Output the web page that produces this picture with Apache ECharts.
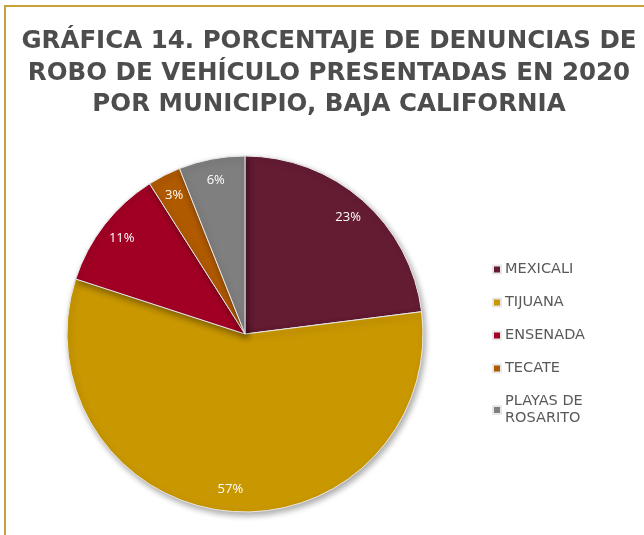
<!DOCTYPE html>
<html>
<head>
<meta charset="utf-8">
<script src="https://cdn.jsdelivr.net/npm/echarts@6/dist/echarts.min.js"></script>
<style>
  html, body { margin: 0; padding: 0; background: #fff; }
  #main { width: 644px; height: 535px; }
</style>
</head>
<body>
<div id="main"></div>
<script>
    // datos de la gráfica
    var municipios = ['MEXICALI', 'TIJUANA', 'ENSENADA', 'TECATE', 'PLAYAS DE ROSARITO'];
    var porcentajes = [23, 57, 11, 3, 6];
    var colores = ['#641C33', '#C99700', '#A10024', '#B05A00', '#7F7F7F'];

    var myChart = echarts.init(document.getElementById('main'));

    var datos = municipios.map(function (m, i) {
        return { name: m, value: porcentajes[i], itemStyle: { color: colores[i] } };
    });

    var option = {
        animation: false,
        title: {
            text: 'GRÁFICA 14. PORCENTAJE DE DENUNCIAS DE\nROBO DE VEHÍCULO PRESENTADAS EN 2020\nPOR MUNICIPIO, BAJA CALIFORNIA',
            left: 324,
            top: 21,
            textAlign: 'center',
            textStyle: {
                fontFamily: 'DejaVu Sans',
                fontWeight: 'bold',
                fontSize: 24.5,
                lineHeight: 31.5,
                color: '#4D4D4D'
            }
        },
        graphic: [{
            type: 'rect',
            shape: { x: 5, y: 6, width: 700, height: 600 },
            style: { fill: 'none', stroke: '#C9A13A', lineWidth: 2 },
            silent: true
        }],
        legend: {
            orient: 'vertical',
            left: 487,
            top: 256,
            itemWidth: 8,
            itemHeight: 8,
            itemGap: 16,
            icon: 'rect',
            data: municipios,
            formatter: function (name) {
                return name === 'PLAYAS DE ROSARITO' ? 'PLAYAS DE\nROSARITO' : name;
            },
            textStyle: {
                fontFamily: 'DejaVu Sans',
                fontSize: 14.5,
                lineHeight: 17,
                color: '#595959',
                padding: [0, 0, 0, -1]
            }
        },
        series: [{
            type: 'pie',
            center: [245, 334],
            radius: [0, 178],
            startAngle: 90,
            clockwise: true,
            data: datos,
            label: { show: false },
            labelLine: { show: false },
            itemStyle: {
                borderColor: '#E8E8E8',
                borderWidth: 1,
                shadowBlur: 6,
                shadowOffsetX: 2,
                shadowOffsetY: 3,
                shadowColor: 'rgba(0,0,0,0.35)'
            }
        }, {
            // anillo transparente sólo para colocar las etiquetas
            type: 'pie',
            center: [245, 334],
            radius: [128, 178],
            startAngle: 90,
            clockwise: true,
            silent: true,
            legendHoverLink: false,
            data: municipios.map(function (m, i) {
                return { name: m + ' ', value: porcentajes[i] };
            }),
            itemStyle: { color: 'rgba(0,0,0,0)' },
            label: {
                show: true,
                position: 'inner',
                formatter: '{c}%',
                fontFamily: 'Open Sans',
                fontSize: 13,
                color: '#FFFFFF'
            },
            labelLine: { show: false }
        }]
    };

    myChart.setOption(option);
</script>
</body>
</html>
